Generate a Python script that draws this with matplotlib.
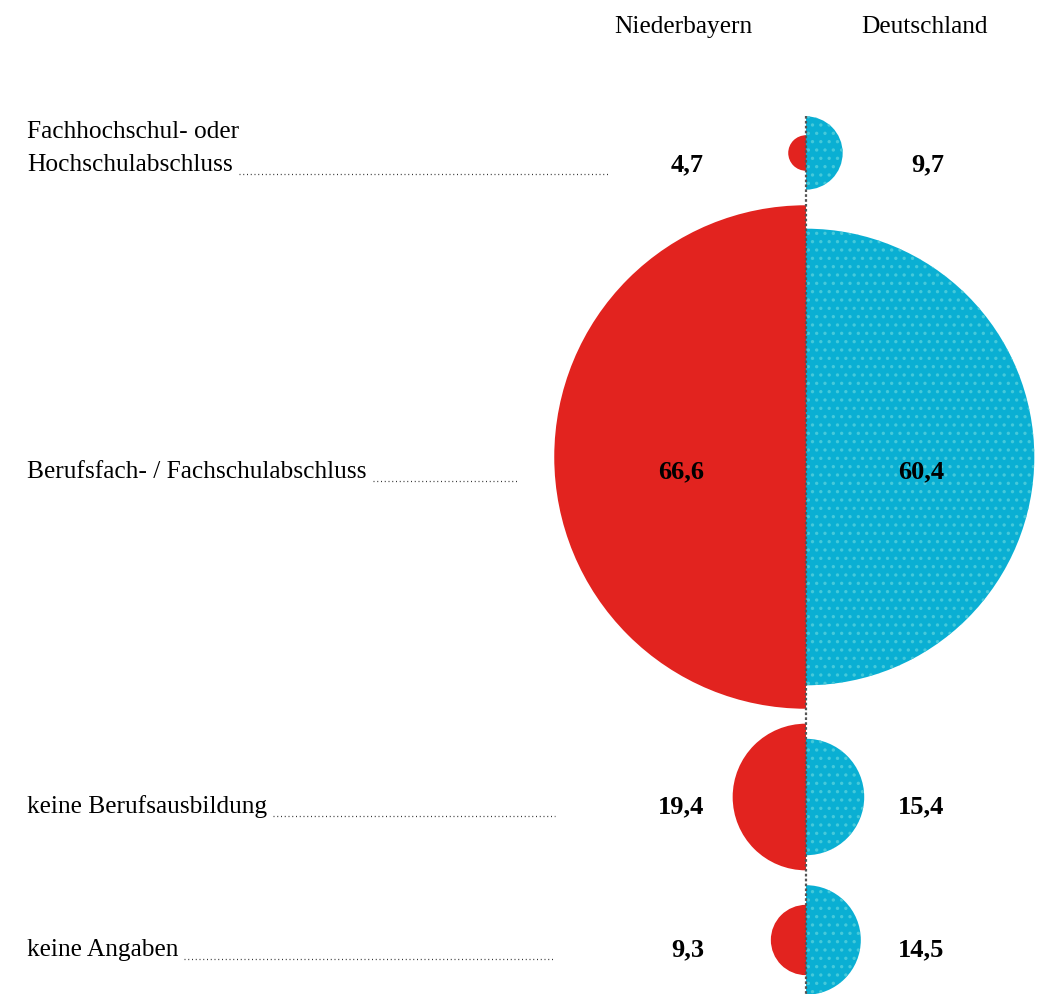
import matplotlib.pyplot as plt
from matplotlib.patches import Wedge

# data
categories = ["Fachhochschul- oder\nHochschulabschluss",
              "Berufsfach- / Fachschulabschluss",
              "keine Berufsausbildung",
              "keine Angaben"]
niederbayern = [4.7, 66.6, 19.4, 9.3]
deutschland = [9.7, 60.4, 15.4, 14.5]
col_titles = ["Niederbayern", "Deutschland"]

# layout (pixel coordinates)
W, H = 1046, 994
x0 = 806
scale = 3.78            # radius in px per percent
circle_y = [153, 457, 797, 940]
text_y = [165, 472, 807, 950]
leader_end = [608, 517, 555, 555]
red = "#e2231f"
cyan = "#0aafd3"

def fmt(v):
    return f"{v:.1f}".replace(".", ",")

plt.rcParams['font.family'] = ['Liberation Serif', 'DejaVu Serif']
plt.rcParams['hatch.linewidth'] = 1.2

fig = plt.figure(figsize=(W / 100, H / 100), dpi=100)
ax = fig.add_axes([0, 0, 1, 1])
ax.set_xlim(0, W)
ax.set_ylim(H, 0)
ax.set_aspect('equal')
ax.axis('off')

# center line
ax.plot([x0, x0], [116, H], color="#555555", lw=1.6, ls=(0, (1.2, 1)), zorder=3)

for i, cat in enumerate(categories):
    cy = circle_y[i]
    ax.add_patch(Wedge((x0, cy), scale * niederbayern[i], 90, 270,
                       facecolor=red, edgecolor="none", zorder=2))
    ax.add_patch(Wedge((x0, cy), scale * deutschland[i], -90, 90,
                       facecolor=cyan, edgecolor="#45c9da", hatch="..",
                       lw=0, zorder=2))
    ty = text_y[i]
    ax.text(704, ty, fmt(niederbayern[i]), ha="right", va="center",
            fontsize=19, fontweight="bold", zorder=4)
    ax.text(944, ty, fmt(deutschland[i]), ha="right", va="center",
            fontsize=19, fontweight="bold", zorder=4)

    lines = cat.split("\n")
    if len(lines) == 2:
        ax.text(27, ty - 33, lines[0], ha="left", va="center", fontsize=18.3)
    t = ax.text(27, ty, lines[-1], ha="left", va="center", fontsize=18.3)
    fig.canvas.draw()
    bb = t.get_window_extent().transformed(ax.transData.inverted())
    ax.plot([bb.x1 + 6, leader_end[i]], [ty + 9, ty + 9], color="#333333",
            lw=0.9, ls=(0, (0.8, 2.2)))

ax.text(683, 27, col_titles[0], ha="center", va="center", fontsize=18.3)
ax.text(925, 27, col_titles[1], ha="center", va="center", fontsize=18.3)

fig.savefig("out.png", dpi=100)
